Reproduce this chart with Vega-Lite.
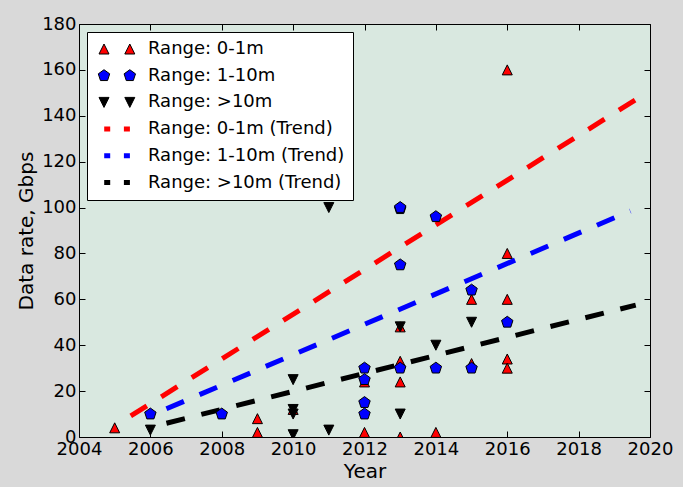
{
  "$schema": "https://vega.github.io/schema/vega-lite/v6.json",
  "autosize": "none",
  "width": 571,
  "height": 413,
  "padding": {"left": 79, "top": 24, "right": 33, "bottom": 50},
  "background": "#d9d9d9",
  "config": {
    "font": "DejaVu Sans",
    "view": {"fill": "#d9e8e0", "stroke": "black", "strokeWidth": 1},
    "axis": {
      "labelFont": "DejaVu Sans", "labelFontSize": 18, "labelColor": "black", "labelFlush": false, "labelOverlap": false,
      "titleFont": "DejaVu Sans", "titleFontSize": 20, "titleFontWeight": "normal", "titleColor": "black",
      "domain": false, "tickColor": "black", "tickSize": -6, "tickWidth": 1,
      "grid": true, "gridColor": "black", "gridOpacity": 0.7, "gridDash": [1, 3], "gridWidth": 1
    },
    "legend": {
      "orient": "top-left", "offset": 8, "padding": 8, "rowPadding": 8.7,
      "labelOffset": 35, "symbolSize": 100, "symbolStrokeWidth": 1,
      "fillColor": "white", "strokeColor": "black", "cornerRadius": 0,
      "labelFont": "DejaVu Sans", "labelFontSize": 18, "labelColor": "black", "labelLimit": 400
    }
  },
  "datasets": {
    "pts": [
      {"series": "Range: 0-1m", "year": 2005, "rate": 4},
      {"series": "Range: 0-1m", "year": 2009, "rate": 8},
      {"series": "Range: 0-1m", "year": 2009, "rate": 2},
      {"series": "Range: 0-1m", "year": 2010, "rate": 12},
      {"series": "Range: 0-1m", "year": 2012, "rate": 2},
      {"series": "Range: 0-1m", "year": 2012, "rate": 24},
      {"series": "Range: 0-1m", "year": 2013, "rate": 48},
      {"series": "Range: 0-1m", "year": 2013, "rate": 33},
      {"series": "Range: 0-1m", "year": 2013, "rate": 24},
      {"series": "Range: 0-1m", "year": 2013, "rate": 0},
      {"series": "Range: 0-1m", "year": 2014, "rate": 2},
      {"series": "Range: 0-1m", "year": 2015, "rate": 60},
      {"series": "Range: 0-1m", "year": 2015, "rate": 32},
      {"series": "Range: 0-1m", "year": 2016, "rate": 160},
      {"series": "Range: 0-1m", "year": 2016, "rate": 80},
      {"series": "Range: 0-1m", "year": 2016, "rate": 60},
      {"series": "Range: 0-1m", "year": 2016, "rate": 34},
      {"series": "Range: 0-1m", "year": 2016, "rate": 30},
      {"series": "Range: 1-10m", "year": 2006, "rate": 10},
      {"series": "Range: 1-10m", "year": 2008, "rate": 10},
      {"series": "Range: 1-10m", "year": 2012, "rate": 30},
      {"series": "Range: 1-10m", "year": 2012, "rate": 25},
      {"series": "Range: 1-10m", "year": 2012, "rate": 15},
      {"series": "Range: 1-10m", "year": 2012, "rate": 10},
      {"series": "Range: 1-10m", "year": 2013, "rate": 99.5},
      {"series": "Range: 1-10m", "year": 2013, "rate": 100},
      {"series": "Range: 1-10m", "year": 2013, "rate": 75},
      {"series": "Range: 1-10m", "year": 2013, "rate": 30},
      {"series": "Range: 1-10m", "year": 2014, "rate": 96},
      {"series": "Range: 1-10m", "year": 2014, "rate": 30},
      {"series": "Range: 1-10m", "year": 2015, "rate": 64},
      {"series": "Range: 1-10m", "year": 2015, "rate": 30},
      {"series": "Range: 1-10m", "year": 2016, "rate": 50},
      {"series": "Range: >10m", "year": 2006, "rate": 3},
      {"series": "Range: >10m", "year": 2010, "rate": 25},
      {"series": "Range: >10m", "year": 2010, "rate": 12},
      {"series": "Range: >10m", "year": 2010, "rate": 10},
      {"series": "Range: >10m", "year": 2010, "rate": 1},
      {"series": "Range: >10m", "year": 2011, "rate": 100},
      {"series": "Range: >10m", "year": 2011, "rate": 3},
      {"series": "Range: >10m", "year": 2013, "rate": 48},
      {"series": "Range: >10m", "year": 2013, "rate": 10},
      {"series": "Range: >10m", "year": 2014, "rate": 40},
      {"series": "Range: >10m", "year": 2015, "rate": 50}
    ],
    "trends": [
      {"series": "Range: 0-1m (Trend)", "year": 2005.45, "rate": 9.2},
      {"series": "Range: 0-1m (Trend)", "year": 2019.6, "rate": 147},
      {"series": "Range: 1-10m (Trend)", "year": 2006.45, "rate": 12.3},
      {"series": "Range: 1-10m (Trend)", "year": 2019.45, "rate": 98.5},
      {"series": "Range: >10m (Trend)", "year": 2006.45, "rate": 6},
      {"series": "Range: >10m (Trend)", "year": 2019.6, "rate": 57.5}
    ]
  },
  "resolve": {
    "axis": {"x": "independent", "y": "independent"},
    "scale": {"color": "independent", "shape": "independent", "stroke": "independent"}
  },
  "layer": [
    {
      "data": {"name": "trends"},
      "mark": {"type": "line", "strokeWidth": 5, "strokeDash": [19, 17], "strokeCap": "butt", "clip": true},
      "encoding": {
        "x": {"field": "year", "type": "quantitative",
              "scale": {"domain": [2004, 2020], "nice": false, "zero": false},
              "axis": {"orient": "top", "labels": false, "grid": false, "title": null, "values": [2004, 2006, 2008, 2010, 2012, 2014, 2016, 2018, 2020]}},
        "y": {"field": "rate", "type": "quantitative",
              "scale": {"domain": [0, 180], "nice": false},
              "axis": {"orient": "right", "labels": false, "grid": false, "title": null, "values": [0, 20, 40, 60, 80, 100, 120, 140, 160, 180]}},
        "color": {"field": "series", "type": "nominal", "legend": null,
                  "scale": {"domain": ["Range: 0-1m (Trend)", "Range: 1-10m (Trend)", "Range: >10m (Trend)"],
                            "range": ["#ff0000", "#0000ff", "#000000"]}}
      }
    },
    {
      "data": {"name": "pts"},
      "mark": {"type": "point", "filled": true, "stroke": "black", "strokeWidth": 1, "opacity": 1, "size": 100, "clip": true},
      "encoding": {
        "x": {"field": "year", "type": "quantitative",
              "axis": {"orient": "bottom", "title": "Year", "format": "d", "labelPadding": 9, "titlePadding": 3,
                       "values": [2004, 2006, 2008, 2010, 2012, 2014, 2016, 2018, 2020]}},
        "y": {"field": "rate", "type": "quantitative",
              "axis": {"orient": "left", "title": "Data rate, Gbps", "labelPadding": 9, "titlePadding": 5,
                       "values": [0, 20, 40, 60, 80, 100, 120, 140, 160, 180]}},
        "shape": {"field": "series", "type": "nominal", "legend": null,
                  "scale": {"domain": ["Range: 0-1m", "Range: 1-10m", "Range: >10m"],
                            "range": ["M0,-1L-1,1L1,1Z", "M0,-1.2L1.141,-0.371L0.705,0.971L-0.705,0.971L-1.141,-0.371Z", "M-1,-1L1,-1L0,1Z"]}},
        "color": {"field": "series", "type": "nominal", "legend": null,
                  "scale": {"domain": ["Range: 0-1m", "Range: 1-10m", "Range: >10m"],
                            "range": ["#ff0000", "#0000ff", "#000000"]}}
      }
    },
    {
      "data": {"name": "pts"},
      "transform": [{"filter": "false"}],
      "mark": {"type": "point", "filled": true, "strokeWidth": 1, "opacity": 1, "size": 100},
      "encoding": {
        "x": {"field": "year", "type": "quantitative", "axis": null},
        "y": {"field": "rate", "type": "quantitative", "axis": null},
        "shape": {"field": "series", "type": "nominal", "legend": {"title": null},
                  "scale": {"domain": ["Range: 0-1m", "Range: 1-10m", "Range: >10m", "Range: 0-1m (Trend)", "Range: 1-10m (Trend)", "Range: >10m (Trend)"],
                            "range": ["M0,-1L-1,1L1,1ZM5.16,-1L4.16,1L6.16,1Z",
                                      "M0,-1.2L1.141,-0.371L0.705,0.971L-0.705,0.971L-1.141,-0.371ZM5.16,-1.2L6.301,-0.371L5.865,0.971L4.455,0.971L4.019,-0.371Z",
                                      "M-1,-1L1,-1L0,1ZM4.16,-1L6.16,-1L5.16,1Z",
                                      "M0.04,-0.5h1.2v1h-1.2ZM3.98,-0.5h1.2v1h-1.2Z",
                                      "M0.04,-0.5h1.2v1h-1.2ZM3.98,-0.5h1.2v1h-1.2Z",
                                      "M0.04,-0.5h1.2v1h-1.2ZM3.98,-0.5h1.2v1h-1.2Z"]}},
        "color": {"field": "series", "type": "nominal", "legend": {"title": null},
                  "scale": {"domain": ["Range: 0-1m", "Range: 1-10m", "Range: >10m", "Range: 0-1m (Trend)", "Range: 1-10m (Trend)", "Range: >10m (Trend)"],
                            "range": ["#ff0000", "#0000ff", "#000000", "#ff0000", "#0000ff", "#000000"]}},
        "stroke": {"field": "series", "type": "nominal", "legend": {"title": null},
                  "scale": {"domain": ["Range: 0-1m", "Range: 1-10m", "Range: >10m", "Range: 0-1m (Trend)", "Range: 1-10m (Trend)", "Range: >10m (Trend)"],
                            "range": ["#000000", "#000000", "#000000", "transparent", "transparent", "transparent"]}}
      }
    }
  ]
}
